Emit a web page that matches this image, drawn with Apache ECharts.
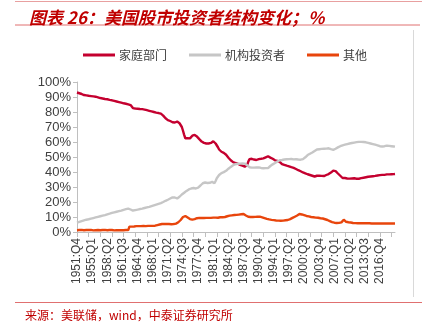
<!DOCTYPE html>
<html>
<head>
<meta charset="utf-8">
<script src="https://cdn.jsdelivr.net/npm/echarts@6/dist/echarts.min.js"></script>
<style>
html,body{margin:0;padding:0;background:#fff;}
#chart{width:428px;height:324px;}
</style>
</head>
<body>
<div id="chart"></div>
<script>
// Quarter labels from 1951:Q4 onward
const startYear = 1951, startQuarter = 4, nQuarters = 274;
const categories = [];
for (let i = 0; i < nQuarters; i++) {
  const n = startYear * 4 + (startQuarter - 1) + i;
  categories.push(Math.floor(n / 4) + ':Q' + (n % 4 + 1));
}

const seriesNames = ['家庭部门', '机构投资者', '其他'];

const household = [
93.0,92.8,92.5,92.3,92.0,91.6,91.3,91.4,91.1,91.0,
90.8,90.9,90.6,90.5,90.4,90.5,90.2,90.0,89.8,89.6,
89.3,89.2,89.0,88.9,88.7,88.6,88.5,88.3,88.1,88.0,
87.8,87.6,87.4,87.2,87.0,86.8,86.6,86.4,86.2,86.0,
85.8,85.6,85.5,85.3,85.1,85.7,84.6,83.4,82.6,82.4,
82.3,82.4,82.2,82.1,82.0,82.1,81.9,81.8,81.6,81.4,
81.2,81.0,80.8,80.6,80.4,80.2,80.0,79.8,79.6,79.5,
79.3,79.2,78.9,78.4,77.6,76.8,75.8,75.0,74.6,74.3,
74.0,73.6,73.2,72.9,73.0,73.3,73.6,73.2,72.5,71.5,
70.0,67.5,64.8,62.5,62.3,62.5,62.6,62.4,63.2,64.2,
65.0,64.7,64.1,63.6,62.8,61.9,61.0,60.3,59.8,59.4,
59.2,59.0,59.1,59.0,59.2,59.4,59.6,60.5,60.0,59.0,
58.0,56.5,55.0,54.2,53.5,53.2,52.8,52.4,51.5,50.5,
49.5,48.6,47.8,47.0,46.6,46.3,46.0,45.8,45.5,45.1,
44.8,44.5,44.2,44.0,43.6,43.2,44.5,46.8,48.5,49.0,
48.8,48.5,48.3,48.1,48.0,48.2,48.6,48.5,48.8,49.0,
49.1,49.5,49.8,50.1,50.5,50.0,49.6,49.3,48.8,48.3,
47.8,47.3,47.4,47.5,46.8,45.8,45.3,45.0,44.7,44.5,
44.2,44.0,43.8,43.5,43.2,43.0,42.7,42.4,42.0,41.6,
41.2,40.8,40.5,40.1,39.7,39.4,39.1,38.8,38.5,38.2,
38.0,37.8,37.5,37.2,37.0,37.3,37.5,37.2,37.6,37.8,
37.4,37.0,37.3,37.7,38.0,38.3,38.6,39.0,39.6,40.5,
40.9,40.8,40.6,39.8,39.0,38.3,37.5,36.8,36.0,35.8,
36.0,35.8,35.7,35.9,35.6,35.6,35.7,35.9,35.8,35.6,
35.5,35.7,35.5,35.8,35.9,36.1,36.2,36.4,36.5,36.6,
36.8,36.9,37.0,37.1,37.2,37.3,37.4,37.5,37.7,37.8,
37.9,38.0,38.1,38.2,38.1,38.3,38.4,38.3,38.4,38.5,
38.5,38.6,38.6,38.7
];

const institutional = [
6.2,6.5,6.8,7.0,7.3,7.5,7.8,8.0,8.2,8.4,
8.5,8.7,8.9,9.1,9.3,9.5,9.7,9.9,10.1,10.3,
10.5,10.7,10.9,11.1,11.3,11.6,11.8,12.0,12.2,12.5,
12.7,12.9,13.1,13.3,13.5,13.7,13.9,14.1,14.3,14.6,
14.8,15.0,15.2,15.4,15.6,15.8,15.0,14.2,14.3,14.5,
14.6,14.8,14.9,15.1,15.3,15.4,15.6,15.8,16.0,16.2,
16.4,16.6,16.8,17.1,17.3,17.5,17.8,18.0,18.3,18.5,
18.8,19.1,19.3,19.6,20.0,20.4,20.8,21.2,21.5,21.9,
22.3,22.7,23.1,23.4,23.0,22.7,22.4,22.9,23.5,24.2,
25.0,25.6,26.2,26.9,27.4,27.9,28.4,28.8,29.0,29.2,
29.3,29.2,29.0,29.0,29.6,30.3,31.0,31.8,32.5,33.2,
33.0,32.8,32.7,32.6,32.8,33.1,33.4,33.0,32.5,34.0,
35.8,37.0,38.0,39.1,39.3,39.6,39.9,40.2,40.8,41.5,
42.2,42.8,43.4,44.0,44.5,44.9,45.2,45.5,45.5,45.6,
45.6,45.7,45.7,45.8,45.6,45.3,44.5,43.8,43.2,42.8,
42.9,42.7,42.9,42.8,43.0,42.8,43.1,43.0,42.7,42.6,
42.5,42.4,42.6,42.5,42.6,43.2,44.0,44.6,45.1,45.5,
46.0,46.5,47.0,47.5,47.8,47.9,48.0,48.2,48.3,48.4,
48.5,48.6,48.6,48.5,48.7,48.5,48.4,48.3,48.5,48.4,
48.3,48.1,48.2,48.2,48.6,49.0,49.8,50.6,51.3,51.8,
52.2,52.6,53.0,53.5,54.0,54.6,55.0,55.1,55.2,55.3,
55.4,55.5,55.5,55.6,55.6,55.7,55.8,55.5,55.2,55.0,
54.8,55.1,55.5,56.0,56.4,56.8,57.2,57.6,57.8,58.0,
58.2,58.4,58.6,58.8,59.0,59.1,59.3,59.5,59.6,59.8,
59.9,60.0,60.1,60.2,60.1,60.2,60.0,60.0,59.8,59.6,
59.4,59.2,59.0,58.8,58.6,58.4,58.2,58.0,57.8,57.5,
57.2,56.9,57.0,57.1,57.2,57.4,57.6,57.5,57.4,57.3,
57.2,57.1,57.0,56.9
];

const other = [
1.2,1.1,1.3,1.2,1.4,1.3,1.2,1.1,1.3,1.2,
1.3,1.2,1.4,1.2,1.1,1.3,1.2,1.4,1.3,1.2,
1.2,1.1,1.3,1.2,1.4,1.3,1.2,1.1,1.3,1.2,
1.3,1.2,1.1,1.3,1.2,1.4,1.2,1.1,1.2,1.3,
1.2,1.1,1.3,1.2,1.3,3.6,3.7,3.6,3.8,3.7,
3.8,3.9,3.8,3.9,4.0,3.9,4.0,4.1,4.0,3.9,
4.0,4.1,4.0,4.1,4.2,4.1,4.2,4.2,4.4,4.6,
4.8,5.0,5.2,5.3,5.2,5.3,5.4,5.3,5.2,5.3,
5.3,5.2,5.3,5.3,5.4,5.6,6.0,6.5,7.0,8.0,
9.0,10.0,10.8,10.6,10.2,9.6,9.0,8.6,8.4,8.2,
8.4,8.6,9.0,9.2,9.3,9.4,9.4,9.3,9.2,9.3,
9.3,9.4,9.3,9.4,9.5,9.4,9.5,9.6,9.5,9.6,
9.6,9.5,9.7,9.8,9.7,9.8,9.8,10.0,10.2,10.5,
10.7,10.9,11.0,11.1,11.2,11.3,11.3,11.4,11.5,11.6,
11.6,11.8,11.9,12.0,11.6,11.0,10.6,10.2,10.1,10.0,
10.1,10.0,10.0,10.1,10.2,10.2,10.1,10.2,10.0,9.8,
9.6,9.3,9.0,8.8,8.6,8.4,8.2,8.1,8.0,7.9,
7.8,7.7,7.6,7.6,7.5,7.5,7.5,7.6,7.7,7.8,
7.8,8.0,8.3,8.6,9.0,9.4,9.8,10.2,10.6,11.0,
11.5,12.0,11.9,11.7,11.5,11.2,10.9,10.7,10.6,10.4,
10.2,10.0,9.8,9.8,9.7,9.6,9.6,9.5,9.3,9.2,
9.1,9.0,8.8,8.5,8.3,8.0,7.7,7.3,7.0,6.6,
6.3,6.2,6.1,6.0,6.0,6.1,6.3,6.4,7.2,8.2,
7.4,6.8,6.6,6.5,6.4,6.3,6.1,6.0,5.9,5.9,
5.8,5.8,5.8,5.8,5.8,5.8,5.8,5.8,5.8,5.8,
5.8,5.8,5.8,5.7,5.7,5.7,5.7,5.7,5.7,5.7,
5.7,5.7,5.7,5.7,5.7,5.7,5.7,5.7,5.7,5.7,
5.7,5.7,5.7,5.7
];

const yTicks = [0, 10, 20, 30, 40, 50, 60, 70, 80, 90, 100];

const colors = ['#C4002F', '#C6C6C6', '#E8450C'];
const chart = echarts.init(document.getElementById('chart'), null, {renderer: 'canvas'});
const lineSeries = [household, institutional, other].map((d, i) => ({
  name: seriesNames[i],
  type: 'line',
  data: d,
  showSymbol: false,
  symbol: 'none',
  lineStyle: {width: 2.4, color: colors[i]},
  itemStyle: {color: colors[i]},
  animation: false
}));

chart.setOption({
  animation: false,
  backgroundColor: '#fff',
  title: {
    text: '图表 26：美国股市投资者结构变化；%',
    left: 24, top: 4,
    textStyle: {
      fontFamily: '"Noto Sans CJK SC", sans-serif',
      fontSize: 17, fontWeight: 'bold', fontStyle: 'italic', color: '#C00000'
    }
  },
  legend: {
    top: 44, left: 78,
    itemWidth: 32, itemHeight: 3, itemGap: 22,
    icon: 'rect',
    textStyle: {fontFamily: '"Noto Sans CJK SC", sans-serif', fontSize: 12, color: '#404040', padding: [0, 0, 0, -1]},
    data: seriesNames
  },
  grid: {left: 77, right: 33, top: 82, bottom: 92, containLabel: false},
  xAxis: {
    type: 'category',
    data: categories,
    boundaryGap: false,
    axisLine: {lineStyle: {color: '#BFBFBF', width: 1}},
    axisTick: {show: true, interval: 9, length: 5, lineStyle: {color: '#BFBFBF'}},
    axisLabel: {
      interval: 12, rotate: 90, margin: 6, showMaxLabel: false,
      fontFamily: '"Liberation Sans", Arial, sans-serif', fontSize: 12, color: '#404040'
    },
    splitLine: {show: false}
  },
  yAxis: {
    type: 'value',
    min: yTicks[0], max: yTicks[yTicks.length - 1], interval: 10,
    axisLine: {show: true, lineStyle: {color: '#BFBFBF', width: 1}},
    axisTick: {show: true, length: 4, lineStyle: {color: '#BFBFBF'}},
    axisLabel: {
      formatter: '{value}%', margin: 6,
      fontFamily: '"Liberation Sans", Arial, sans-serif', fontSize: 13, color: '#404040'
    },
    splitLine: {show: false}
  },
  series: lineSeries,
  graphic: [
    {type: 'line', shape: {x1: 15, y1: 1.5, x2: 422, y2: 1.5}, style: {stroke: '#E8A0A0', lineWidth: 1}},
    {type: 'line', shape: {x1: 15, y1: 25, x2: 420, y2: 25}, style: {stroke: '#E07070', lineWidth: 1}},
    {type: 'line', shape: {x1: 413.5, y1: 30, x2: 413.5, y2: 297}, style: {stroke: '#D9D9D9', lineWidth: 1}},
    {type: 'line', shape: {x1: 15, y1: 302.5, x2: 422, y2: 302.5}, style: {stroke: '#E07070', lineWidth: 1}},
    {type: 'text', left: 25, top: 309,
     style: {text: '来源：美联储，wind，中泰证券研究所', fill: '#C00000',
             font: '12px "Noto Sans CJK SC", sans-serif'}}
  ]
});
</script>
</body>
</html>
